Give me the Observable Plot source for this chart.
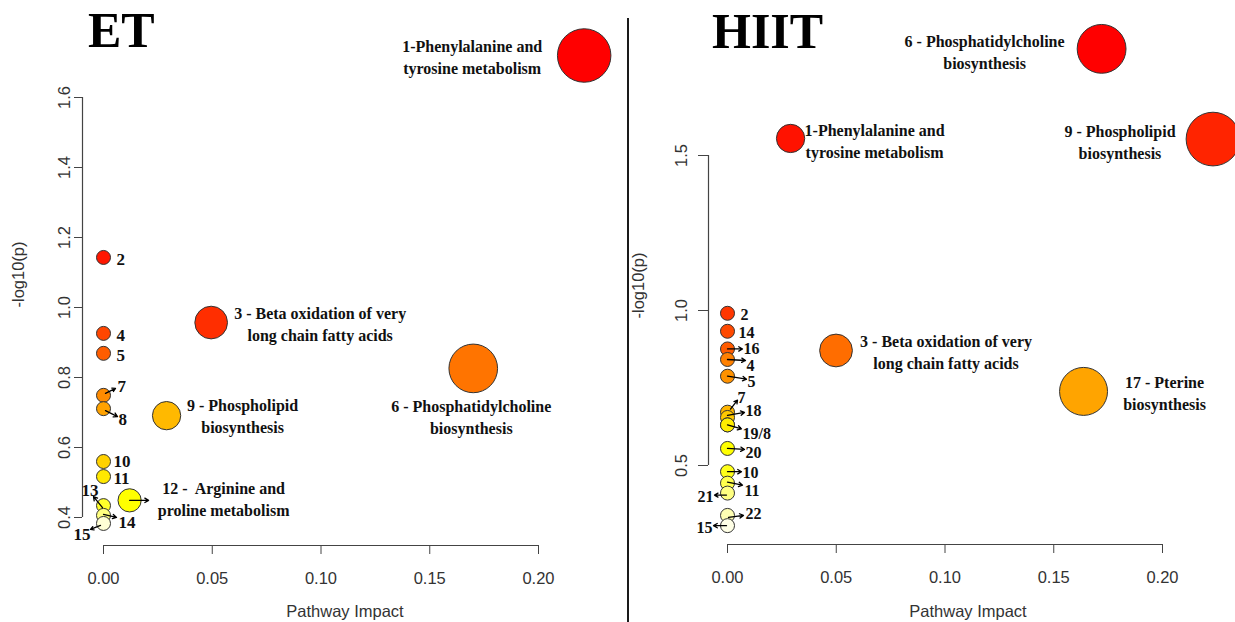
<!DOCTYPE html>
<html><head><meta charset="utf-8">
<script src="https://cdn.jsdelivr.net/npm/d3@7"></script>
<script src="https://cdn.jsdelivr.net/npm/@observablehq/plot@0.6"></script>
<style>
html,body{margin:0;padding:0;background:#fff;}
#wrap{position:relative;width:1235px;height:622px;overflow:hidden;background:#fff;}
.panel{position:absolute;top:0;}
.title{position:absolute;font-family:"Liberation Serif","Times New Roman",serif;font-weight:bold;font-size:50px;line-height:50px;color:#000;white-space:nowrap;}
#divider{position:absolute;left:627px;top:18px;width:2px;height:604px;background:#1a1a1a;}
</style></head><body>
<div id="wrap">
  <div id="left" class="panel" style="left:0px"></div>
  <div id="right" class="panel" style="left:628px"></div>
  <div id="divider"></div>
  <div class="title" style="left:88px;top:5px">ET</div>
  <div class="title" style="left:712px;top:6px">HIIT</div>
</div>
<script>
// ---------- ET data ----------
const etIds = ["1","2","3","4","5","6","7","8","9","10","11","12","13","14","15"];
const etImpact = [0.221, 0, 0.0495, 0, 0, 0.170, 0, 0, 0.029, 0, 0, 0.012, 0, 0, 0];
const etLogP = [1.72, 1.143, 0.957, 0.926, 0.869, 0.826, 0.749, 0.711, 0.691, 0.560, 0.517, 0.449, 0.434, 0.406, 0.383];
const etLabels = ["1-Phenylalanine and\ntyrosine metabolism", "2", "3 - Beta oxidation of very\nlong chain fatty acids", "4", "5",
  "6 - Phosphatidylcholine\nbiosynthesis", "7", "8", "9 - Phospholipid\nbiosynthesis", "10", "11",
  "12 -  Arginine and\nproline metabolism", "13", "14", "15"];

// ---------- HIIT data ----------
const hiitIds = ["6","1","9","2","14","16","3","4","5","17","7","18","19","8","20","10","11","21","22","15"];
const hiitImpact = [0.172, 0.029, 0.2232, 0, 0, 0, 0.0499, 0, 0, 0.1637, 0, 0, 0, 0, 0, 0, 0, 0, 0, 0];
const hiitLogP = [1.844, 1.555, 1.553, 0.991, 0.933, 0.876, 0.871, 0.842, 0.788, 0.739, 0.672, 0.655, 0.631, 0.631, 0.555, 0.480, 0.443, 0.411, 0.339, 0.306];
const hiitLabels = ["6 - Phosphatidylcholine\nbiosynthesis", "1-Phenylalanine and\ntyrosine metabolism", "9 - Phospholipid\nbiosynthesis",
  "2", "14", "16", "3 - Beta oxidation of very\nlong chain fatty acids", "4", "5", "17 - Pterine\nbiosynthesis",
  "7", "18", "19/8", "", "20", "10", "11", "21", "22", "15"];

// ---------- axes ----------
const xTicks = [0, 0.05, 0.10, 0.15, 0.20];
const etYTicks = [0.4, 0.6, 0.8, 1.0, 1.2, 1.4, 1.6];
const hiitYTicks = [0.5, 1.0, 1.5];
const xTitle = "Pathway Impact";
const yTitle = "-log10(p)";

// ---------- label placement (pixel offsets, style only) ----------
const etLayout = {
  "1": {dx: -112, dy: 0, anchor: "middle"},
  "2": {dx: 13, dy: 0, anchor: "start"},
  "3": {dx: 109, dy: 0, anchor: "middle"},
  "4": {dx: 13, dy: 0, anchor: "start"},
  "5": {dx: 13, dy: 0, anchor: "start"},
  "6": {dx: -2, dy: 48, anchor: "middle"},
  "7": {dx: 14, dy: -11, anchor: "start", arrow: [2, -2, 12, -7]},
  "8": {dx: 15, dy: 9, anchor: "start", arrow: [2, 2, 14, 8]},
  "9": {dx: 76, dy: -1, anchor: "middle"},
  "10": {dx: 10, dy: -2, anchor: "start"},
  "11": {dx: 10, dy: 0, anchor: "start"},
  "12": {dx: 94, dy: -2, anchor: "middle", arrow: [0, 0, 19, 0]},
  "13": {dx: -5, dy: -17, anchor: "end", arrow: [-1, 2, -10, -9]},
  "14": {dx: 15, dy: 5, anchor: "start", arrow: [0, -1, 13, 2]},
  "15": {dx: -13, dy: 9, anchor: "end", arrow: [-3, 2, -13, 6]}
};
const hiitLayout = {
  "6": {dx: -117, dy: 2, anchor: "middle"},
  "1": {dx: 84, dy: 2, anchor: "middle"},
  "9": {dx: -93, dy: 2, anchor: "middle"},
  "3": {dx: 110, dy: 0, anchor: "middle"},
  "17": {dx: 81, dy: 1, anchor: "middle"},
  "2": {dx: 13, dy: 0, anchor: "start", size: 16},
  "14": {dx: 11, dy: 0, anchor: "start", size: 16},
  "16": {dx: 16, dy: -2, anchor: "start", size: 16, arrow: [0, 0, 15, 0]},
  "4": {dx: 19, dy: 4, anchor: "start", size: 16, arrow: [0, 0, 18, 1]},
  "5": {dx: 20, dy: 4, anchor: "start", size: 16, arrow: [0, 0, 19, 3]},
  "7": {dx: 10, dy: -16, anchor: "start", size: 16, arrow: [3, -3, 10, -12]},
  "18": {dx: 18, dy: -8, anchor: "start", size: 16, arrow: [0, -2, 17, -5]},
  "19": {dx: 15, dy: 7, anchor: "start", size: 16, arrow: [0, 0, 14, 4]},
  "20": {dx: 18, dy: 3, anchor: "start", size: 16, arrow: [0, 0, 17, 1]},
  "10": {dx: 15, dy: -1, anchor: "start", size: 16, arrow: [0, 0, 14, 0]},
  "11": {dx: 17, dy: 6, anchor: "start", size: 16, arrow: [0, -1, 15, 2]},
  "21": {dx: -14, dy: 2, anchor: "end", size: 16, arrow: [-1, 2, -13, 2]},
  "22": {dx: 18, dy: -3, anchor: "start", size: 16, arrow: [1, 2, 16, 0]},
  "15": {dx: -15, dy: 0, anchor: "end", size: 16, arrow: [-1, 0, -14, 0]}
};

// R's heat.colors(n)
function heatColors(n) {
  const j = Math.floor(n / 4), i = n - j, out = [];
  for (let k = 0; k < i; k++) {
    const h = i > 1 ? k / (i - 1) : 0;
    out.push(d3.rgb(255, Math.round(255 * h), 0).formatHex());
  }
  const s0 = 1 - 1 / (2 * j), s1 = 1 / (2 * j);
  for (let k = 0; k < j; k++) {
    const s = j > 1 ? s0 + (s1 - s0) * k / (j - 1) : 0.5;
    out.push(d3.rgb(255, 255, Math.round(255 * (1 - s))).formatHex());
  }
  return out;
}

function panel(cfg) {
  const {ids, impact, logp, labels, layout, W, H, m, yDomain, yTicks, axisDx, axisDy, yTick, yPad, xPad, yTitlePos, xTitlePos} = cfg;
  const n = ids.length;
  const order = d3.range(n).sort((a, b) => (logp[b] - logp[a]) || (a - b));
  const rank = new Array(n);
  order.forEach((idx, r) => rank[idx] = r);
  const rows = ids.map((id, i) => ({id, impact: impact[i], logp: logp[i], label: labels[i], rank: rank[i]}));
  const drawn = order.map(i => rows[i]);
  const xDomain = [xTicks[0], xTicks[xTicks.length - 1]];
  const sx = Plot.scale({x: {domain: xDomain, range: [m.left, W - m.right]}});
  const sy = Plot.scale({y: {domain: yDomain, range: [H - m.bottom, m.top]}});
  const arrows = rows.filter(d => layout[d.id] && layout[d.id].arrow).map(d => {
    const a = layout[d.id].arrow, px = sx.apply(d.impact), py = sy.apply(d.logp);
    return {x1: sx.invert(px + a[0]), y1: sy.invert(py + a[1]), x2: sx.invert(px + a[2]), y2: sy.invert(py + a[3])};
  });
  const textMarks = rows.filter(d => d.label && layout[d.id]).map(d => {
    const L = layout[d.id];
    const isNum = !d.label.includes(" ");
    return Plot.text([d], {x: "impact", y: "logp", text: "label", dx: L.dx, dy: L.dy, textAnchor: L.anchor,
      fontFamily: "Liberation Serif", fontWeight: "bold", fontSize: L.size || (isNum ? 17 : 16), lineHeight: 1.375, fill: "#111"});
  });
  return Plot.plot({
    width: W, height: H,
    marginTop: m.top, marginRight: m.right, marginBottom: m.bottom, marginLeft: m.left,
    style: {fontFamily: "'Liberation Sans', Arial, sans-serif", fontSize: "16.5px", color: "#333", background: "transparent", overflow: "visible"},
    x: {domain: xDomain},
    y: {domain: yDomain},
    r: {type: "sqrt", domain: [0, 0.25], range: [7, 28]},
    color: {type: "ordinal", domain: d3.range(n), range: heatColors(n)},
    marks: [
      Plot.ruleX([{x: xDomain[0], y1: yTicks[0], y2: yTicks[yTicks.length - 1]}], {x: "x", y1: "y1", y2: "y2", dx: axisDx, stroke: "#444", strokeWidth: 1.2}),
      Plot.axisY({ticks: yTicks, tickFormat: d3.format(".1f"), tickSize: yTick, tickPadding: yPad, tickRotate: -90, dx: axisDx, label: null, stroke: "#444", fill: "#333", fontSize: 16.5}),
      Plot.ruleY([{y: yDomain[0], x1: xDomain[0], x2: xDomain[1]}], {y: "y", x1: "x1", x2: "x2", dy: axisDy, stroke: "#444", strokeWidth: 1.2}),
      Plot.axisX({ticks: xTicks, tickFormat: d3.format(".2f"), tickSize: 9, tickPadding: xPad, dy: axisDy, label: null, stroke: "#444", fill: "#333", fontSize: 16.5}),
      Plot.text([yTitle], {text: d => d, frameAnchor: "left", rotate: -90, dx: yTitlePos[0], dy: yTitlePos[1], fill: "#333", fontSize: 16.5}),
      Plot.text([xTitle], {text: d => d, frameAnchor: "bottom", dx: xTitlePos[0], dy: xTitlePos[1], fill: "#333", fontSize: 16.5}),
      Plot.dot(drawn, {x: "impact", y: "logp", r: "impact", fill: "rank", stroke: "#333", strokeWidth: 1}),
      Plot.arrow(arrows, {x1: "x1", y1: "y1", x2: "x2", y2: "y2", stroke: "#000", strokeWidth: 1.3, headLength: 5, headAngle: 60}),
      ...textMarks
    ]
  });
}

document.getElementById("left").append(panel({
  ids: etIds, impact: etImpact, logp: etLogP, labels: etLabels, layout: etLayout,
  W: 627, H: 622, m: {top: 97, right: 89, bottom: 105, left: 103},
  yDomain: [0.4, 1.6], yTicks: etYTicks, axisDx: -21, axisDy: 28, yTick: 8, yPad: 5, xPad: 18,
  yTitlePos: [-85, 0], xTitlePos: [24, 99]
}));
document.getElementById("right").append(panel({
  ids: hiitIds, impact: hiitImpact, logp: hiitLogP, labels: hiitLabels, layout: hiitLayout,
  W: 607, H: 622, m: {top: 155, right: 73, bottom: 157, left: 99},
  yDomain: [0.5, 1.5], yTicks: hiitYTicks, axisDx: -19, axisDy: 79, yTick: 10, yPad: 12, xPad: 18,
  yTitlePos: [-89, 8], xTitlePos: [23, 151]
}));
</script>
</body></html>
